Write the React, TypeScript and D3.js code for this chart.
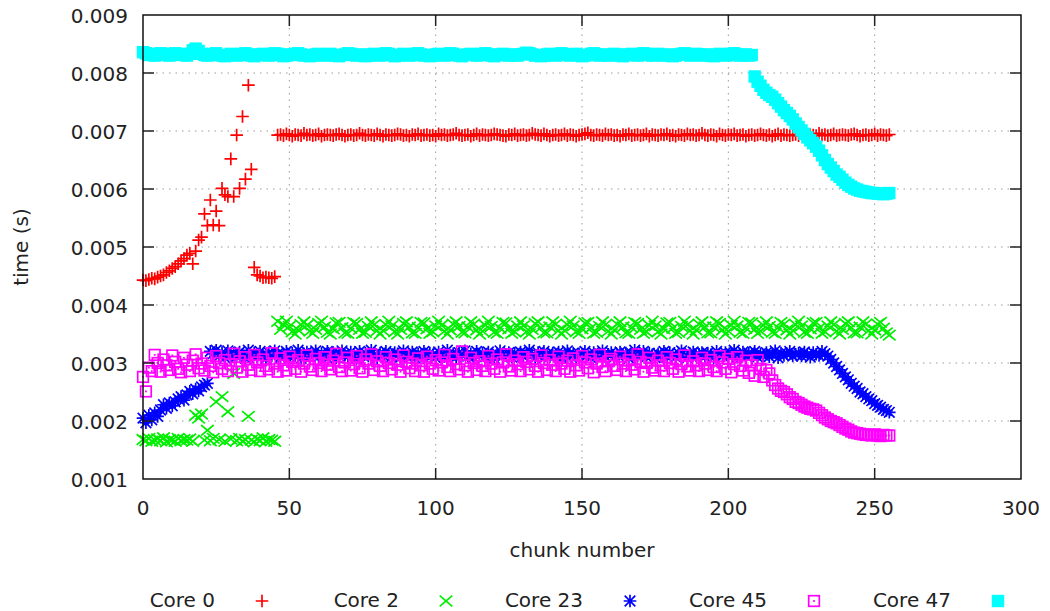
import * as d3 from "d3";

// times are in units of 10 µs (e.g. 693 -> 0.00693 s), one value per chunk 0..255
const core0 = [
  443, 442, 444, 446, 445, 448, 450, 452, 456, 459, 463, 466, 471, 476, 480, 486,
  489, 471, 493, 512, 517, 557, 537, 581, 538, 562, 537, 601, 590, 587, 652, 587,
  693, 601, 725, 617, 779, 634, 465, 452, 450, 447, 448, 447, 446, 449, 693, 694,
  692, 695, 693, 691, 694, 693, 692, 696, 693, 694, 692, 693, 695, 691, 693, 694,
  693, 692, 694, 695, 693, 691, 693, 694, 692, 693, 696, 693, 692, 694, 693, 692,
  695, 693, 691, 694, 693, 692, 693, 695, 694, 692, 693, 691, 694, 693, 695, 692,
  693, 694, 692, 693, 691, 695, 693, 694, 692, 693, 694, 696, 693, 692, 693, 694,
  691, 693, 695, 692, 694, 693, 692, 693, 695, 694, 693, 692, 691, 694, 693, 695,
  692, 693, 694, 692, 693, 696, 694, 693, 692, 695, 693, 691, 693, 694, 692, 693,
  695, 692, 694, 693, 691, 693, 694, 695, 697, 693, 692, 694, 693, 692, 695, 693,
  694, 692, 693, 691, 694, 693, 695, 692, 693, 694, 692, 693, 695, 691, 694, 693,
  692, 694, 693, 695, 692, 693, 691, 694, 693, 692, 695, 693, 694, 692, 693, 696,
  693, 692, 694, 693, 691, 695, 693, 692, 694, 693, 695, 692, 693, 694, 691, 693,
  694, 692, 693, 695, 693, 692, 694, 691, 693, 695, 692, 694, 693, 692, 693, 694,
  692, 695, 693, 691, 694, 693, 692, 696, 693, 694, 692, 693, 695, 692, 693, 694,
  693, 692, 694, 695, 693, 691, 693, 694, 692, 693, 695, 692, 694, 693, 692, 694,
];

const core2 = [
  168, 166, 170, 165, 167, 169, 166, 171, 164, 168, 167, 165, 170, 166, 168, 167,
  169, 165, 210, 205, 212, 167, 184, 166, 170, 233, 168, 242, 165, 216, 169, 282,
  166, 170, 165, 168, 208, 167, 164, 169, 166, 171, 165, 168, 167, 165, 372, 358,
  366, 372, 363, 354, 350, 357, 366, 371, 365, 355, 351, 358, 368, 372, 362, 353,
  350, 359, 369, 370, 361, 352, 351, 360, 370, 368, 358, 351, 353, 363, 371, 366,
  356, 350, 356, 366, 372, 364, 354, 350, 358, 368, 371, 362, 352, 351, 361, 370,
  369, 359, 351, 354, 364, 372, 365, 355, 350, 357, 367, 371, 363, 353, 352, 362,
  371, 367, 357, 350, 355, 365, 372, 363, 353, 351, 360, 370, 369, 359, 351, 354,
  364, 371, 364, 354, 350, 358, 368, 371, 361, 352, 352, 362, 371, 367, 356, 350,
  356, 366, 372, 364, 354, 351, 359, 369, 370, 360, 351, 353, 363, 371, 366, 355,
  350, 357, 367, 371, 362, 352, 351, 361, 370, 368, 358, 351, 354, 365, 372, 364,
  354, 350, 359, 369, 370, 360, 351, 353, 363, 372, 366, 356, 350, 357, 367, 371,
  362, 352, 352, 362, 371, 368, 357, 350, 355, 365, 372, 364, 353, 351, 360, 370,
  369, 358, 351, 355, 365, 371, 363, 353, 351, 361, 370, 367, 357, 350, 356, 366,
  372, 364, 353, 351, 359, 369, 370, 360, 351, 354, 364, 371, 366, 355, 350, 358,
  368, 371, 361, 352, 352, 362, 371, 367, 356, 350, 357, 367, 370, 360, 352, 348,
];

const core23 = [
  205, 197, 210, 202, 214, 208, 219, 228, 222, 231, 226, 233, 238, 242, 236, 245,
  251, 247, 255, 252, 259, 262, 265, 320, 316, 322, 312, 318, 309, 321, 314, 317,
  311, 319, 315, 308, 322, 313, 317, 310, 320, 314, 307, 318, 312, 321, 316, 309,
  315, 320, 311, 317, 313, 322, 308, 316, 319, 312, 314, 321, 310, 317, 313, 320,
  312, 318, 309, 316, 321, 314, 311, 319, 315, 308, 320, 313, 317, 312, 322, 315,
  309, 317, 313, 320, 314, 311, 318, 316, 310, 321, 312, 315, 319, 308, 316, 313,
  320, 312, 317, 314, 309, 319, 315, 311, 322, 313, 316, 310, 318, 314, 321, 312,
  316, 309, 320, 313, 317, 311, 319, 314, 308, 316, 321, 312, 315, 318, 310, 317,
  313, 319, 311, 316, 322, 314, 309, 318, 312, 320, 315, 311, 317, 313, 319, 308,
  315, 321, 312, 317, 310, 316, 313, 320, 314, 309, 318, 312, 316, 321, 311, 315,
  318, 310, 314, 319, 313, 317, 308, 316, 322, 312, 315, 320, 311, 317, 314, 309,
  316, 313, 320, 311, 318, 314, 310, 317, 321, 313, 309, 316, 319, 312, 315, 318,
  311, 317, 314, 309, 320, 315, 312, 318, 313, 316, 322, 310, 314, 319, 312, 317,
  314, 320, 310, 316, 313, 318, 311, 315, 321, 309, 317, 313, 316, 320, 312, 315,
  317, 312, 319, 314, 310, 318, 315, 313, 320, 316, 312, 306, 300, 294, 288, 282,
  276, 271, 265, 260, 256, 250, 247, 242, 238, 235, 230, 227, 224, 220, 218, 215,
];

const core45 = [
  276, 251, 292, 286, 314, 300, 285, 306, 296, 288, 313, 302, 290, 284, 309, 297,
  286, 304, 315, 291, 299, 287, 309, 295, 284, 312, 300, 290, 305, 286, 298, 316,
  292, 303, 285, 310, 297, 288, 314, 301, 286, 306, 295, 289, 317, 299, 285, 308,
  296, 287, 311, 302, 290, 305, 285, 299, 313, 294, 288, 307, 300, 286, 310, 297,
  289, 304, 316, 293, 286, 301, 309, 287, 298, 312, 291, 285, 306, 299, 315, 288,
  303, 295, 286, 310, 300, 289, 306, 297, 285, 313, 302, 291, 299, 286, 308, 296,
  285, 311, 299, 290, 305, 287, 301, 314, 293, 286, 307, 298, 289, 320, 296, 285,
  309, 300, 288, 303, 295, 286, 312, 299, 290, 306, 285, 301, 315, 294, 287, 304,
  298, 286, 310, 302, 289, 307, 295, 285, 313, 300, 288, 305, 297, 286, 311, 299,
  290, 304, 285, 308, 296, 287, 312, 301, 291, 306, 284, 299, 314, 293, 286, 303,
  307, 295, 288, 311, 299, 286, 305, 297, 289, 315, 302, 285, 300, 309, 292, 287,
  304, 296, 286, 310, 300, 290, 306, 285, 298, 313, 294, 287, 303, 296, 286, 309,
  299, 288, 305, 293, 286, 312, 301, 290, 307, 284, 298, 310, 295, 287, 304, 283,
  296, 278, 305, 290, 276, 288, 282, 270, 262, 256, 252, 250, 246, 241, 238, 233,
  231, 228, 225, 223, 221, 220, 218, 214, 210, 206, 203, 200, 198, 196, 193, 190,
  187, 185, 182, 180, 179, 178, 177, 176, 176, 175, 177, 175, 174, 176, 175, 175,
];

const core47 = [
  836, 834, 831, 833, 830, 832, 834, 833, 831, 830, 832, 834, 833, 831, 832, 830,
  833, 839, 842, 838, 833, 831, 830, 832, 833, 834, 831, 830, 829, 831, 833, 832,
  830, 831, 833, 834, 832, 830, 829, 831, 832, 833, 831, 830, 832, 834, 833, 831,
  829, 830, 832, 831, 833, 834, 832, 830, 831, 829, 830, 832, 833, 831, 830, 832,
  833, 831, 830, 829, 831, 832, 834, 833, 831, 830, 832, 831, 829, 830, 832, 833,
  831, 830, 832, 834, 833, 831, 829, 830, 831, 833, 832, 830, 831, 833, 834, 832,
  830, 831, 829, 830, 832, 833, 831, 830, 832, 834, 833, 831, 830, 829, 831, 832,
  833, 832, 830, 831, 833, 834, 832, 830, 829, 831, 832, 833, 831, 830, 832, 831,
  830, 832, 833, 835, 834, 832, 830, 831, 829, 830, 832, 833, 831, 830, 832, 834,
  832, 831, 830, 832, 833, 831, 829, 830, 831, 833, 834, 832, 830, 831, 832, 830,
  831, 833, 832, 830, 829, 831, 832, 833, 831, 830, 832, 834, 833, 831, 830, 832,
  833, 831, 830, 832, 831, 829, 830, 832, 833, 834, 832, 830, 831, 833, 832, 830,
  831, 832, 830, 829, 831, 833, 832, 830, 831, 833, 834, 832, 830, 831, 832, 830,
  831, 794, 785, 778, 771, 766, 762, 759, 754, 748, 742, 736, 731, 726, 720, 713,
  707, 701, 695, 689, 684, 679, 673, 666, 658, 650, 643, 637, 631, 625, 621, 616,
  611, 607, 604, 601, 599, 597, 596, 595, 594, 593, 593, 592, 592, 591, 592, 593,
];

const xTicks = [0, 50, 100, 150, 200, 250, 300];
const yTicks = [0.001, 0.002, 0.003, 0.004, 0.005, 0.006, 0.007, 0.008, 0.009];

const series = [
  { name: "Core 0", values: core0, color: "#ff0000", shape: "plus" },
  { name: "Core 2", values: core2, color: "#00ee00", shape: "cross" },
  { name: "Core 23", values: core23, color: "#0000ff", shape: "star" },
  { name: "Core 45", values: core45, color: "#ff00ff", shape: "box" },
  { name: "Core 47", values: core47, color: "#00ffff", shape: "fbox" },
];

const W = 1050;
const H = 611;
const plot = { left: 143, right: 1021, top: 15, bottom: 479 };
const font = "DejaVu Sans, sans-serif";
const ink = "#222";

const x = d3.scaleLinear().domain([0, 300]).range([plot.left, plot.right]);
const y = d3.scaleLinear().domain([0.001, 0.009]).range([plot.bottom, plot.top]);

function Marker({ shape, cx, cy, color }: { shape: string; cx: number; cy: number; color: string }) {
  const r = 6.3;
  const d = 5.3;
  const sw = 1.7;
  if (shape === "plus") {
    return <path d={`M${cx - r},${cy}H${cx + r}M${cx},${cy - r}V${cy + r}`} stroke={color} strokeWidth={sw} fill="none" />;
  }
  if (shape === "cross") {
    return (
      <path
        d={`M${cx - r},${cy - d}L${cx + r},${cy + d}M${cx - r},${cy + d}L${cx + r},${cy - d}`}
        stroke={color}
        strokeWidth={sw}
        fill="none"
      />
    );
  }
  if (shape === "star") {
    return (
      <path
        d={`M${cx - r},${cy}H${cx + r}M${cx},${cy - r}V${cy + r}M${cx - d},${cy - d}L${cx + d},${cy + d}M${cx - d},${cy + d}L${cx + d},${cy - d}`}
        stroke={color}
        strokeWidth={sw}
        fill="none"
      />
    );
  }
  if (shape === "box") {
    return (
      <g>
        <rect x={cx - 5.3} y={cy - 5.3} width={10.6} height={10.6} stroke={color} strokeWidth={sw} fill="none" />
        <rect x={cx - 0.9} y={cy - 0.9} width={1.8} height={1.8} fill={color} />
      </g>
    );
  }
  return <rect x={cx - 6.2} y={cy - 6.2} width={12.4} height={12.4} fill={color} />;
}

export default function App() {
  return (
    <svg width={W} height={H} style={{ position: "absolute", left: 0, top: 0, background: "#fff" }} fontFamily={font}>
      <rect width={W} height={H} fill="#fff" />

      {/* grid */}
      <g stroke="#9a9a9a" strokeWidth={1} strokeDasharray="1.5,5">
        {xTicks.slice(1, -1).map((t) => (
          <line key={`gx${t}`} x1={x(t)} x2={x(t)} y1={plot.top} y2={plot.bottom} />
        ))}
        {yTicks.slice(1, -1).map((t) => (
          <line key={`gy${t}`} x1={plot.left} x2={plot.right} y1={y(t)} y2={y(t)} />
        ))}
      </g>

      {/* points */}
      {series.map((s) => (
        <g key={s.name}>
          {s.values.map((v, i) => (
            <Marker key={i} shape={s.shape} cx={x(i)} cy={y(v / 1e5)} color={s.color} />
          ))}
        </g>
      ))}

      {/* ticks */}
      <g stroke="#222" strokeWidth={1.5}>
        {xTicks.slice(1, -1).map((t) => (
          <g key={`tx${t}`}>
            <line x1={x(t)} x2={x(t)} y1={plot.bottom} y2={plot.bottom - 11} />
            <line x1={x(t)} x2={x(t)} y1={plot.top} y2={plot.top + 11} />
          </g>
        ))}
        {yTicks.slice(1, -1).map((t) => (
          <g key={`ty${t}`}>
            <line x1={plot.left} x2={plot.left + 11} y1={y(t)} y2={y(t)} />
            <line x1={plot.right} x2={plot.right - 11} y1={y(t)} y2={y(t)} />
          </g>
        ))}
      </g>

      {/* frame */}
      <rect
        x={plot.left}
        y={plot.top}
        width={plot.right - plot.left}
        height={plot.bottom - plot.top}
        fill="none"
        stroke="#111"
        strokeWidth={1.5}
      />

      {/* tick labels */}
      <g fontSize={20} fill={ink}>
        {xTicks.map((t) => (
          <text key={`lx${t}`} x={x(t)} y={515} textAnchor="middle">
            {t}
          </text>
        ))}
        {yTicks.map((t) => (
          <text key={`ly${t}`} x={128} y={y(t) + 7.5} textAnchor="end">
            {d3.format(".3f")(t)}
          </text>
        ))}
      </g>

      {/* axis titles */}
      <text x={(plot.left + plot.right) / 2} y={557} textAnchor="middle" fontSize={20} fill={ink}>
        chunk number
      </text>
      <text transform={`translate(28,${(plot.top + plot.bottom) / 2}) rotate(-90)`} textAnchor="middle" fontSize={20} fill={ink}>
        time (s)
      </text>

      {/* legend */}
      {series.map((s, i) => (
        <g key={`lg${s.name}`}>
          <text x={215 + 184 * i} y={607} textAnchor="end" fontSize={20} fill={ink}>
            {s.name}
          </text>
          <Marker shape={s.shape} cx={262 + 184 * i} cy={601} color={s.color} />
        </g>
      ))}
    </svg>
  );
}
